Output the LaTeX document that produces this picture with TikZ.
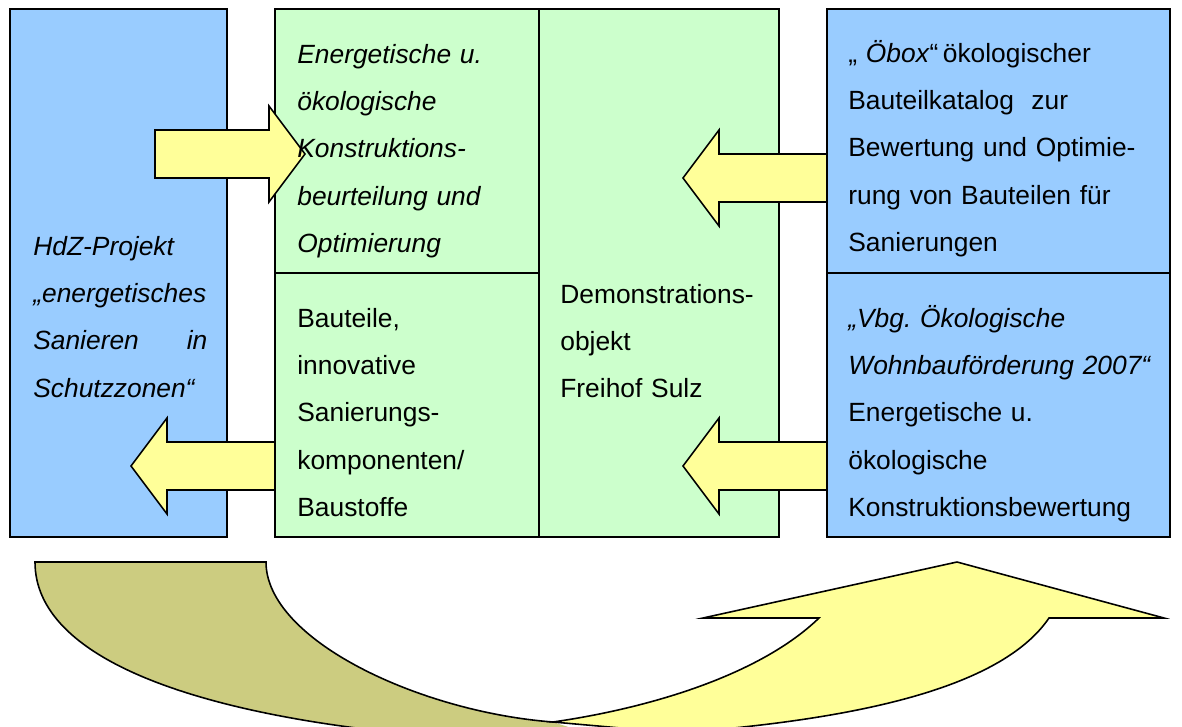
\documentclass[tikz,border=0pt]{standalone}
\usepackage{fontspec}
\setmainfont{Liberation Sans}
\usetikzlibrary{positioning}
\definecolor{boxblue}{RGB}{153,204,255}
\definecolor{boxgreen}{RGB}{204,255,204}
\definecolor{arrowyellow}{RGB}{255,255,153}
\definecolor{arrowolive}{RGB}{204,204,128}
\setlength\parindent{0pt}
\frenchspacing
\tikzset{
	box/.style={
		draw,
		line width=0.9pt,
		inner sep=0pt,
		outer sep=0pt,
		anchor=north west
	},
	bluebox/.style={box, fill=boxblue},
	greenbox/.style={box, fill=boxgreen},
	boxtext/.style={
		inner sep=0pt,
		anchor=north west,
		text width=#1,
		align=left,
		font=\fontsize{15}{26.9}\selectfont,
		execute at begin node=\strut
	},
	boxtext/.default={64mm},
	blockarrow/.pic={
		\draw[line width=0.9pt, fill=arrowyellow]
			(0,0) -- (36,-48) -- (36,-24) -- (#1,-24) -- (#1,24) -- (36,24) -- (36,48) -- cycle;
	}
}

\begin{document}
\begin{tikzpicture}[x=0.2mm, y=-0.2mm]
	\useasboundingbox (0,0) rectangle (1182,727);
	\clip (0,0) rectangle (1182,727);

	% boxes
	\node[bluebox, minimum width=43.4mm, minimum height=105.6mm] (hdz) at (10,9) {};
	\node[greenbox, minimum width=52.8mm, minimum height=52.8mm, below right=0mm and 9.6mm of hdz.north east] (konstr) {};
	\node[greenbox, minimum width=52.8mm, minimum height=52.8mm, below=0mm of konstr.south west, anchor=north west] (bauteile) {};
	\node[greenbox, minimum width=48mm, minimum height=105.6mm, below right=0mm and 0mm of konstr.north east] (demo) {};
	\node[bluebox, minimum width=68.6mm, minimum height=52.8mm, below right=0mm and 9.6mm of demo.north east] (obox) {};
	\node[bluebox, minimum width=68.6mm, minimum height=52.8mm, below=0mm of obox.south west, anchor=north west] (vbg) {};

	% block arrows
	\pic[xscale=-1] (toKonstr) at (305,154) {blockarrow=150};
	\pic (fromObox) at (683,178) {blockarrow=144};
	\pic (fromVbg) at (683,466) {blockarrow=144};
	\pic (toHdz) at (131,466) {blockarrow=144};

	% curved arrow
	\fill[arrowolive] (35,562) .. controls (35,660) and (200,715) .. (420,735) -- (420,770) -- (700,770)
		-- (553,722) .. controls (420,712) and (266,640) .. (266,562) -- cycle;
	\draw[line width=0.9pt] (420,735) .. controls (200,715) and (35,660) .. (35,562) -- (266,562)
		.. controls (266,640) and (420,712) .. (553,722);
	\draw[line width=0.9pt, fill=arrowyellow] (553,722) .. controls (650,708) and (760,675) .. (819,618)
		-- (703,618) -- (957,562) -- (1164,618) -- (1049,618)
		.. controls (1000,690) and (850,720) .. (677,733) -- cycle;

	% texts
	\node[boxtext=34.8mm, below right=42.6mm and 4.6mm of hdz.north west] (hdzText)
		{\itshape HdZ-Projekt\\ „energetisches\\ Sanieren\hfill in\\ Schutzzonen“};
	\node[boxtext, below right=4.2mm and 4.4mm of konstr.north west] (konstrText)
		{\itshape Energetische u.\\ ökologische\\ Konstruktions-\\ beurteilung und\\ Optimierung};
	\node[boxtext, below right=4.2mm and 4.4mm of bauteile.north west] (bauteileText)
		{Bauteile,\\ innovative\\ Sanierungs-\\ komponenten/\\ Baustoffe};
	\node[boxtext, below right=52.2mm and 4.2mm of demo.north west] (demoText)
		{Demonstrations-\\ objekt\\ Freihof Sulz};
	\node[boxtext, below right=4mm and 4.2mm of obox.north west] (oboxText)
		{„ \textit{Öbox}“\,ökologischer\\ Bauteilkatalog\ \ zur\\ Bewertung und Optimie-\\ rung von Bauteilen für\\ Sanierungen};
	\node[boxtext, below right=4.2mm and 4.2mm of vbg.north west] (vbgText)
		{\textit{„Vbg. Ökologische}\\ \textit{Wohnbauförderung 2007“}\\ Energetische u.\\ ökologische\\ Konstruktionsbewertung};
\end{tikzpicture}
\end{document}
